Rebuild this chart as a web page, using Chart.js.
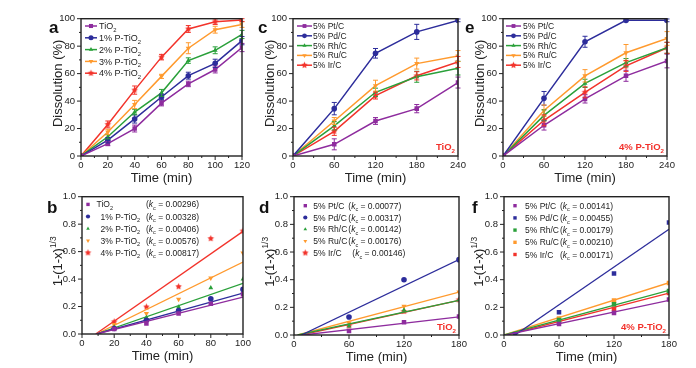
<!DOCTYPE html>
<html>
<head>
<meta charset="utf-8">
<title>Dissolution kinetics</title>
<script src="https://cdn.jsdelivr.net/npm/chart.js@4.4.1/dist/chart.umd.min.js"></script>
<style>
  html, body { margin: 0; padding: 0; background: #fff; }
  body { width: 696px; height: 368px; position: relative; overflow: hidden; }
  canvas { position: absolute; }
</style>
</head>
<body>
<canvas id="panel-a"></canvas>
<canvas id="panel-c"></canvas>
<canvas id="panel-e"></canvas>
<canvas id="panel-b"></canvas>
<canvas id="panel-d"></canvas>
<canvas id="panel-f"></canvas>
<script>
// --- data ---

// a: dissolution (%) of TiO2 / P-doped TiO2 supports
const timeA = [0, 20, 40, 60, 80, 100, 120];
const namesA = ['TiO2', '1% P-TiO2', '2% P-TiO2', '3% P-TiO2', '4% P-TiO2'];
const dissTiO2 = [0, 9, 20, 38.5, 52.5, 63, 79];
const dissP1 = [0, 11.5, 27, 43, 58.5, 67.5, 84];
const dissP2 = [0, 14, 32, 46, 69.5, 77, 88.5];
const dissP3 = [0, 17.5, 37.5, 58, 78.5, 92, 95.7];
const dissP4 = [0, 23, 48, 72, 92.5, 97.8, 99];
const errTiO2 = [0, 1.5, 2.5, 2, 2, 2.5, 3];
const errP1 = [0, 2, 3, 2, 2.5, 3, 3];
const errP2 = [0, 1.5, 2, 2.5, 2, 2.5, 3];
const errP3 = [0, 2, 3, 1.5, 4, 2.5, 2];
const errP4 = [0, 2.5, 3, 2, 2.5, 2, 1];

// b: 1-(1-x)^1/3 vs time, with fitted rate constants
const timeB = [20, 40, 60, 80, 100];
const kinTiO2 = [0.036, 0.077, 0.149, 0.22, 0.29];
const kinP1 = [0.04, 0.10, 0.17, 0.257, 0.325];
const kinP2 = [0.05, 0.12, 0.197, 0.336, 0.40];
const kinP3 = [0.07, 0.149, 0.254, 0.408, 0.59];
const kinP4 = [0.089, 0.197, 0.345, 0.695, 0.75];
const kB = [0.00296, 0.00328, 0.00406, 0.00576, 0.00817];
const onsetB = [9, 9, 9, 9, 8.5];

// c / e: dissolution (%) of metal/C catalysts on TiO2 and on 4% P-TiO2
const timeCE = [0, 60, 120, 180, 240];
const namesM = ['5% Pt/C', '5% Pd/C', '5% Rh/C', '5% Ru/C', '5% Ir/C'];
const dissPtC = [0, 8.5, 25.5, 34.5, 53.5];
const dissPdC = [0, 34.5, 74.8, 90.4, 98.8];
const dissRhC = [0, 22, 46.4, 57.7, 64];
const dissRuC = [0, 25.5, 51.2, 67.3, 72.8];
const dissIrC = [0, 18, 44, 58.4, 68.5];
const errPtC = [0, 4, 2.5, 3, 4];
const errPdC = [0, 4.5, 3.5, 5.5, 1];
const errRhC = [0, 3, 3, 4, 5];
const errRuC = [0, 2.5, 4, 4, 4];
const errIrC = [0, 3, 2.5, 3, 4];

const dissPtE = [0, 22.4, 41.6, 58.4, 69.2];
const dissPdE = [0, 42, 83.2, 98.8, 98.8];
const dissRhE = [0, 29.6, 52.9, 68, 78.8];
const dissRuE = [0, 33.2, 58.4, 75.2, 85.6];
const dissIrE = [0, 26, 46.4, 65.6, 78.8];
const errPtE = [0, 3.5, 3, 4, 5];
const errPdE = [0, 5, 4, 1, 1];
const errRhE = [0, 4, 3, 3, 4];
const errRuE = [0, 4, 4.5, 6, 5];
const errIrE = [0, 4, 4, 4, 4];

// d / f: kinetic plots for the metal/C series
const timeDF = [60, 120, 180];
const kinPtD = [0.029, 0.093, 0.134];
const kinPdD = [0.13, 0.40, 0.545];
const kinRhD = [0.065, 0.18, 0.254];
const kinRuD = [0.086, 0.208, 0.311];
const kinIrD = [0.065, 0.17, 0.254];
const kD = [0.00077, 0.00317, 0.00142, 0.00176, 0.00146];
const onsetD = [10, 8, 4, 4, 8];

const timePdF = [12, 60, 120, 180];
const kinPtF = [0.079, 0.16, 0.256];
const kinPdF = [0.005, 0.165, 0.445, 0.813];
const kinRhF = [0.108, 0.222, 0.318];
const kinRuF = [0.12, 0.25, 0.376];
const kinIrF = [0.098, 0.19, 0.304];
const kF = [0.00141, 0.00455, 0.00179, 0.00210, 0.00171];
const onsetF = [2, 12, 0, 0, 3];

// --- styling ---
const FONT = '"Liberation Sans", Arial, Helvetica, sans-serif';
const INK = '#222';
const NOTE_RED = '#F2302A';
const colors = ['#8E2C9E', '#2D2D9B', '#2AA03A', '#FF9A2E', '#F2332B'];
const shapesStd = ['rect', 'circle', 'triangle', 'triangleDown', 'star'];
const shapesF = ['rect', 'rect', 'rect', 'rect', 'rect'];

// space around each plot area inside its canvas
const PAD_L = 70, PAD_T = 10, PAD_R = 22, PAD_B = 30;

Chart.defaults.font.family = FONT;
Chart.defaults.color = INK;

function makeStar(color, r) {
  const c = document.createElement('canvas');
  const s = Math.ceil(r * 2 + 2);
  c.width = s; c.height = s;
  const g = c.getContext('2d');
  g.fillStyle = color;
  g.beginPath();
  for (let i = 0; i < 10; i++) {
    const rr = i % 2 ? r * 0.5 : r;
    const ang = -Math.PI / 2 + i * Math.PI / 5;
    g.lineTo(s / 2 + rr * Math.cos(ang), s / 2 + rr * Math.sin(ang));
  }
  g.closePath();
  g.fill();
  return c;
}

function marker(shape, color) {
  if (shape === 'star') return {pointStyle: makeStar(color, 3.4), rotation: 0, radius: 3};
  if (shape === 'triangleDown') return {pointStyle: 'triangle', rotation: 180, radius: 3};
  if (shape === 'rect') return {pointStyle: 'rect', rotation: 0, radius: 3.2};
  return {pointStyle: shape, rotation: 0, radius: 2.8};
}

// rich text (subscripts / superscripts / italics) for labels
function chem(s) {
  return s.endsWith('O2') ? [{t: s.slice(0, -1)}, {t: '2', sub: true}] : [{t: s}];
}
function kText(k) {
  return [{t: '('}, {t: 'k', it: true}, {t: 'c', sub: true}, {t: ' = ' + k.toFixed(5) + ')'}];
}
function segFont(seg, size, bold) {
  const sz = seg.sub || seg.sup ? size * 0.65 : size;
  return (seg.it ? 'italic ' : '') + (bold ? 'bold ' : '') + sz + 'px ' + FONT;
}
function richWidth(ctx, segs, size, bold) {
  let w = 0;
  segs.forEach(s => { ctx.font = segFont(s, size, bold); w += ctx.measureText(s.t).width; });
  return w;
}
function drawRich(ctx, segs, x, y, size, bold) {
  ctx.textAlign = 'left';
  ctx.textBaseline = 'alphabetic';
  segs.forEach(s => {
    ctx.font = segFont(s, size, bold);
    const dy = s.sub ? size * 0.3 : s.sup ? -size * 0.42 : 0;
    ctx.fillText(s.t, x, y + dy);
    x += ctx.measureText(s.t).width;
  });
}

// --- plugins ---
const errorBarPlugin = {
  id: 'errorBars',
  afterDatasetsDraw(chart) {
    const {ctx, scales: {y}} = chart;
    ctx.save();
    ctx.lineWidth = 1;
    chart.data.datasets.forEach((ds, i) => {
      if (!ds.errorBars) return;
      const meta = chart.getDatasetMeta(i);
      ctx.strokeStyle = ds.borderColor;
      meta.data.forEach((pt, j) => {
        const e = ds.errorBars[j];
        if (!e) return;
        const v = ds.data[j].y;
        const y1 = y.getPixelForValue(v + e), y2 = y.getPixelForValue(v - e);
        ctx.beginPath();
        ctx.moveTo(pt.x, y1); ctx.lineTo(pt.x, y2);
        ctx.moveTo(pt.x - 2.5, y1); ctx.lineTo(pt.x + 2.5, y1);
        ctx.moveTo(pt.x - 2.5, y2); ctx.lineTo(pt.x + 2.5, y2);
        ctx.stroke();
      });
    });
    ctx.restore();
  }
};

const decoPlugin = {
  id: 'panelDeco',
  afterDraw(chart, args, o) {
    const {ctx, chartArea: a, scales: {x, y}} = chart;
    ctx.save();
    // frame
    ctx.strokeStyle = INK;
    ctx.lineWidth = 1.4;
    ctx.strokeRect(a.left, a.top, a.right - a.left, a.bottom - a.top);
    // outward major/minor ticks
    ctx.lineWidth = 1;
    ctx.beginPath();
    const tickRun = (scale, minor, major, draw) => {
      const n = Math.round((scale.max - scale.min) / minor);
      const every = Math.round(major / minor);
      for (let i = 0; i <= n; i++) {
        const p = scale.getPixelForValue(scale.min + i * minor);
        draw(p, i % every === 0 ? 4 : 2);
      }
    };
    tickRun(x, o.minorX, x.options.ticks.stepSize, (p, len) => {
      ctx.moveTo(p, a.bottom); ctx.lineTo(p, a.bottom + len);
    });
    tickRun(y, o.minorY, y.options.ticks.stepSize, (p, len) => {
      ctx.moveTo(a.left, p); ctx.lineTo(a.left - len, p);
    });
    ctx.stroke();

    // panel letter
    ctx.fillStyle = '#111';
    ctx.font = 'bold 17px ' + FONT;
    ctx.textAlign = 'left';
    ctx.textBaseline = 'alphabetic';
    ctx.fillText(o.letter, a.left + o.letterAt[0], a.top + o.letterAt[1]);

    // y title
    ctx.save();
    ctx.translate(a.left + o.yTitleAt[0], (a.top + a.bottom) / 2 + o.yTitleAt[1]);
    ctx.rotate(-Math.PI / 2);
    ctx.fillStyle = INK;
    const tw = richWidth(ctx, o.yTitle, 13);
    drawRich(ctx, o.yTitle, -tw / 2, 13 * 0.36, 13);
    ctx.restore();

    // legend
    const L = o.legend;
    L.items.forEach((it, i) => {
      const ry = a.top + L.y + i * L.dy;
      const mx = L.line ? a.left + L.x + L.lineLen / 2 : a.left + L.x;
      if (L.line) {
        ctx.strokeStyle = it.color;
        ctx.lineWidth = 1.5;
        ctx.beginPath();
        ctx.moveTo(a.left + L.x, ry); ctx.lineTo(a.left + L.x + L.lineLen, ry);
        ctx.stroke();
      }
      ctx.fillStyle = it.color;
      Chart.helpers.drawPoint(ctx, {pointStyle: it.m.pointStyle, rotation: it.m.rotation,
        radius: it.m.radius * L.markScale, borderWidth: 0}, mx, ry);
      ctx.fillStyle = INK;
      drawRich(ctx, it.segs, a.left + L.textX + (it.textShift || 0), ry + L.size * 0.36, L.size);
      if (it.kSegs) drawRich(ctx, it.kSegs, a.left + L.kX + (it.kShift || 0), ry + L.size * 0.36, L.size);
    });

    // red sample label, bottom right
    if (o.note) {
      ctx.fillStyle = NOTE_RED;
      const nw = richWidth(ctx, o.note, 9.5, true);
      drawRich(ctx, o.note, a.right - 3 - nw, a.bottom - o.noteDy, 9.5, true);
    }
    ctx.restore();
  }
};

// --- dataset builders ---
function lineSeries(times, values, errs, i, shapes) {
  const m = marker(shapes[i], colors[i]);
  return {
    data: times.map((t, j) => ({x: t, y: values[j]})),
    errorBars: errs,
    showLine: true,
    borderColor: colors[i],
    backgroundColor: colors[i],
    borderWidth: 1.5,
    pointStyle: m.pointStyle,
    pointRotation: m.rotation,
    pointRadius: m.radius,
    pointBorderWidth: 0
  };
}

function kineticSeries(times, values, k, onset, xEnd, i, shapes) {
  const m = marker(shapes[i], colors[i]);
  return [{
    data: times.map((t, j) => ({x: t, y: values[j]})),
    showLine: false,
    backgroundColor: colors[i],
    borderColor: colors[i],
    pointStyle: m.pointStyle,
    pointRotation: m.rotation,
    pointRadius: m.radius,
    pointBorderWidth: 0
  }, {
    // linear fit: y = k (t - onset)
    data: [{x: onset, y: 0}, {x: xEnd, y: k * (xEnd - onset)}],
    showLine: true,
    borderColor: colors[i],
    borderWidth: 1.3,
    pointRadius: 0
  }];
}

function axis(min, max, step, fmt, isX) {
  const ax = {
    type: 'linear', min, max,
    grid: {display: false, drawTicks: false},
    border: {display: false},
    ticks: {stepSize: step, autoSkip: false, maxRotation: 0, padding: isX ? 4 : 6,
      color: INK, font: {size: 9.5}, callback: fmt || (v => v)}
  };
  if (isX) {
    ax.title = {display: true, text: 'Time (min)', color: INK, font: {size: 13}, padding: 0};
    ax.afterFit = s => { s.height = PAD_B; };
  } else {
    ax.afterFit = s => { s.width = PAD_L; };
  }
  return ax;
}

function buildPanel(id, box, xs, ys, datasets, deco) {
  const [l, t, r, b] = box;
  const cv = document.getElementById(id);
  cv.width = (r - l) + PAD_L + PAD_R;
  cv.height = (b - t) + PAD_T + PAD_B;
  cv.style.left = (l - PAD_L) + 'px';
  cv.style.top = (t - PAD_T) + 'px';
  return new Chart(cv, {
    type: 'scatter',
    data: {datasets},
    options: {
      responsive: false,
      animation: false,
      devicePixelRatio: 1,
      layout: {padding: {left: 0, top: PAD_T, right: PAD_R, bottom: 0}},
      plugins: {legend: {display: false}, tooltip: {enabled: false}, panelDeco: deco},
      scales: {x: xs, y: ys}
    },
    plugins: [errorBarPlugin, decoPlugin]
  });
}

function legendItems(names, shapes, ks) {
  return names.map((n, i) => ({
    color: colors[i],
    m: marker(shapes[i], colors[i]),
    segs: chem(n),
    kSegs: ks ? kText(ks[i]) : null
  }));
}

const dissTitle = [{t: 'Dissolution (%)'}];
const kinTitle = [{t: '1-(1-x)'}, {t: '1/3', sup: true}];
const oneDec = v => v.toFixed(1);

// a
const dissA = [dissTiO2, dissP1, dissP2, dissP3, dissP4];
const errA = [errTiO2, errP1, errP2, errP3, errP4];
buildPanel('panel-a', [81, 17, 242, 156],
  axis(0, 120, 20, null, true), axis(0, 100, 20),
  dissA.map((v, i) => lineSeries(timeA, v, errA[i], i, shapesStd)),
  {letter: 'a', letterAt: [-32, 14.7], yTitle: dissTitle, yTitleAt: [-24, -4],
   minorX: 10, minorY: 10,
   legend: {line: true, x: 4, y: 7.3, dy: 11.8, lineLen: 12, textX: 18, size: 9, markScale: 0.9,
     items: legendItems(namesA, shapesStd)}});

// b
const kinB = [kinTiO2, kinP1, kinP2, kinP3, kinP4];
const legB = legendItems(namesA, shapesStd, kB);
legB.slice(1).forEach(it => { it.textShift = 4; });
buildPanel('panel-b', [82, 195, 243, 334],
  axis(0, 100, 20, null, true), axis(0, 1, 0.2, oneDec),
  kinB.flatMap((v, i) => kineticSeries(timeB, v, kB[i], onsetB[i], 100, i, shapesStd)),
  {letter: 'b', letterAt: [-35, 16.7], yTitle: kinTitle, yTitleAt: [-25, -4],
   minorX: 10, minorY: 0.1,
   legend: {line: false, x: 6, y: 7.7, dy: 12.1, textX: 14.5, kX: 64, size: 8.5, markScale: 0.75,
     items: legB}});

// c
const dissC = [dissPtC, dissPdC, dissRhC, dissRuC, dissIrC];
const errC = [errPtC, errPdC, errRhC, errRuC, errIrC];
buildPanel('panel-c', [293, 17, 458, 156],
  axis(0, 240, 60, null, true), axis(0, 100, 20),
  dissC.map((v, i) => lineSeries(timeCE, v, errC[i], i, shapesStd)),
  {letter: 'c', letterAt: [-35, 14.7], yTitle: dissTitle, yTitleAt: [-24, -4],
   minorX: 30, minorY: 10, note: chem('TiO2'), noteDy: 6,
   legend: {line: true, x: 4, y: 7.3, dy: 9.8, lineLen: 15, textX: 20, size: 8.5, markScale: 0.85,
     items: legendItems(namesM, shapesStd)}});

// d
const kinD = [kinPtD, kinPdD, kinRhD, kinRuD, kinIrD];
const legD = legendItems(namesM, shapesStd, kD);
legD[4].kShift = 4;
buildPanel('panel-d', [294, 195, 459, 335],
  axis(0, 180, 60, null, true), axis(0, 1, 0.2, oneDec),
  kinD.flatMap((v, i) => kineticSeries(timeDF, v, kD[i], onsetD[i], 180, i, shapesStd)),
  {letter: 'd', letterAt: [-35, 16.7], yTitle: kinTitle, yTitleAt: [-25, -4],
   minorX: 30, minorY: 0.1, note: chem('TiO2'), noteDy: 5,
   legend: {line: false, x: 11.3, y: 9, dy: 11.8, textX: 19.3, kX: 54.3, size: 8.5, markScale: 0.75,
     items: legD}});

// e
const dissE = [dissPtE, dissPdE, dissRhE, dissRuE, dissIrE];
const errE = [errPtE, errPdE, errRhE, errRuE, errIrE];
buildPanel('panel-e', [503, 17, 667, 156],
  axis(0, 240, 60, null, true), axis(0, 100, 20),
  dissE.map((v, i) => lineSeries(timeCE, v, errE[i], i, shapesStd)),
  {letter: 'e', letterAt: [-38, 14.7], yTitle: dissTitle, yTitleAt: [-24, -4],
   minorX: 30, minorY: 10, note: chem('4% P-TiO2'), noteDy: 6,
   legend: {line: true, x: 3, y: 7.3, dy: 9.8, lineLen: 15, textX: 20, size: 8.5, markScale: 0.85,
     items: legendItems(namesM, shapesStd)}});

// f
const kinF = [kinPtF, kinPdF, kinRhF, kinRuF, kinIrF];
const timesF = [timeDF, timePdF, timeDF, timeDF, timeDF];
buildPanel('panel-f', [504, 195, 669, 335],
  axis(0, 180, 60, null, true), axis(0, 1, 0.2, oneDec),
  kinF.flatMap((v, i) => kineticSeries(timesF[i], v, kF[i], onsetF[i], 180, i, shapesF)),
  {letter: 'f', letterAt: [-32, 16.7], yTitle: kinTitle, yTitleAt: [-26, -4],
   minorX: 30, minorY: 0.1, note: chem('4% P-TiO2'), noteDy: 5,
   legend: {line: false, x: 11, y: 9, dy: 12.2, textX: 21, kX: 56, size: 8.5, markScale: 0.75,
     items: legendItems(namesM, shapesF, kF)}});
</script>
</body>
</html>
